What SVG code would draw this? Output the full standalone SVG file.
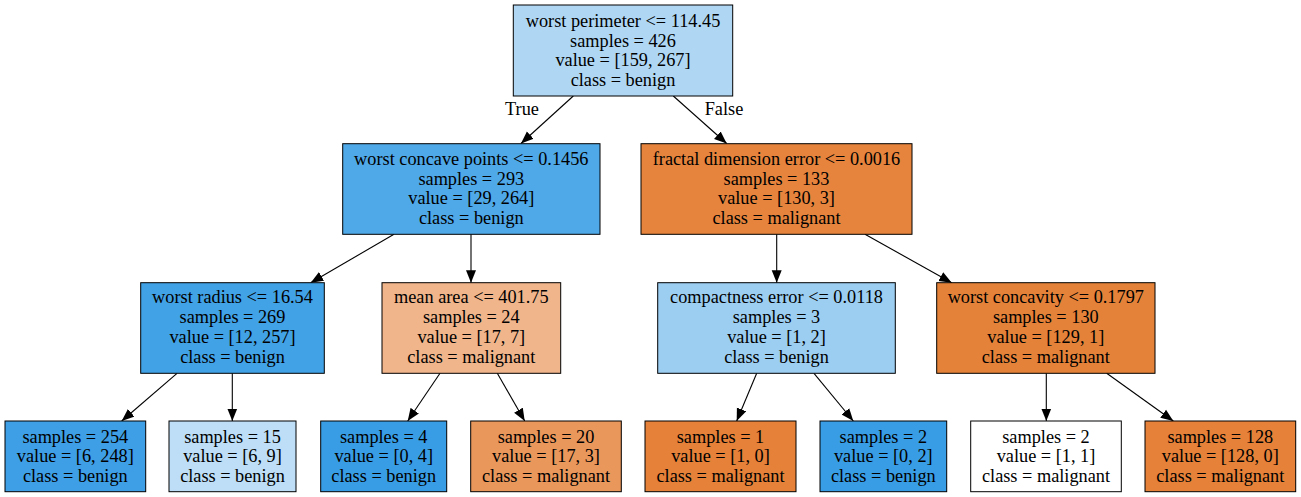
<svg xmlns="http://www.w3.org/2000/svg" width="1301" height="497" viewBox="0 0 1301 497">
<style>
.bg{fill:#ffffff}
.box{stroke:#000000;stroke-width:1}
text{font-family:"Liberation Serif","Times New Roman",serif;font-size:18.3px;fill:#000000;text-anchor:middle}
.edge{stroke:#000000;stroke-width:1.1;fill:none;marker-end:url(#ah)}
</style>
<defs>
<marker id="ah" markerUnits="userSpaceOnUse" markerWidth="13" markerHeight="11" viewBox="0 -5.5 13 11" refX="12.5" refY="0" orient="auto">
<path d="M0,-5 L12.5,0 L0,5 z" fill="#000000"/>
</marker>
</defs>
<rect class="bg" x="0" y="0" width="1301" height="497"/>

<g id="edges">
<line class="edge" x1="573.3" y1="96" x2="521" y2="143.5"/>
<line class="edge" x1="673.3" y1="96" x2="726.7" y2="143.5"/>
<line class="edge" x1="394" y1="234.3" x2="310.7" y2="282.7"/>
<line class="edge" x1="471" y1="234.3" x2="471" y2="282.7"/>
<line class="edge" x1="776.7" y1="234.3" x2="776.7" y2="282.7"/>
<line class="edge" x1="865" y1="234.3" x2="951.7" y2="282.7"/>
<line class="edge" x1="177" y1="373.3" x2="121.7" y2="421"/>
<line class="edge" x1="232.3" y1="373.3" x2="232.3" y2="421"/>
<line class="edge" x1="440" y1="373.3" x2="407.7" y2="421"/>
<line class="edge" x1="497.3" y1="373.3" x2="524.7" y2="421"/>
<line class="edge" x1="756.7" y1="373.3" x2="736.7" y2="421"/>
<line class="edge" x1="814" y1="373.3" x2="853.3" y2="421"/>
<line class="edge" x1="1046.3" y1="373.3" x2="1046.3" y2="421"/>
<line class="edge" x1="1106.7" y1="373.3" x2="1173.3" y2="421"/>
<text x="522" y="115.2">True</text>
<text x="724" y="115.2">False</text>
</g>

<g id="node0">
<rect class="box" x="513.3" y="5" width="219.4" height="91" fill="#afd7f4"/>
<text x="623" y="26.8">worst perimeter &lt;= 114.45</text>
<text x="623" y="46.6">samples = 426</text>
<text x="623" y="66.4">value = [159, 267]</text>
<text x="623" y="86.2">class = benign</text>
</g>

<g id="node1">
<rect class="box" x="342.7" y="143.7" width="257.3" height="90.6" fill="#4fa8e8"/>
<text x="471.3" y="164.8">worst concave points &lt;= 0.1456</text>
<text x="471.3" y="184.6">samples = 293</text>
<text x="471.3" y="204.4">value = [29, 264]</text>
<text x="471.3" y="224.2">class = benign</text>
</g>

<g id="node8">
<rect class="box" x="641" y="143.7" width="271" height="90.6" fill="#e6843d"/>
<text x="776.5" y="164.8">fractal dimension error &lt;= 0.0016</text>
<text x="776.5" y="184.6">samples = 133</text>
<text x="776.5" y="204.4">value = [130, 3]</text>
<text x="776.5" y="224.2">class = malignant</text>
</g>

<g id="node2">
<rect class="box" x="140.7" y="282.7" width="183.6" height="90.6" fill="#42a2e6"/>
<text x="232.5" y="303.1">worst radius &lt;= 16.54</text>
<text x="232.5" y="322.9">samples = 269</text>
<text x="232.5" y="342.7">value = [12, 257]</text>
<text x="232.5" y="362.5">class = benign</text>
</g>

<g id="node5">
<rect class="box" x="382" y="282.7" width="178.7" height="90.6" fill="#f0b58b"/>
<text x="471.3" y="303.1">mean area &lt;= 401.75</text>
<text x="471.3" y="322.9">samples = 24</text>
<text x="471.3" y="342.7">value = [17, 7]</text>
<text x="471.3" y="362.5">class = malignant</text>
</g>

<g id="node9">
<rect class="box" x="657.7" y="282.7" width="237.6" height="90.6" fill="#9ccef2"/>
<text x="776.5" y="303.1">compactness error &lt;= 0.0118</text>
<text x="776.5" y="322.9">samples = 3</text>
<text x="776.5" y="342.7">value = [1, 2]</text>
<text x="776.5" y="362.5">class = benign</text>
</g>

<g id="node12">
<rect class="box" x="936.7" y="282.7" width="218.3" height="90.6" fill="#e58239"/>
<text x="1045.8" y="303.1">worst concavity &lt;= 0.1797</text>
<text x="1045.8" y="322.9">samples = 130</text>
<text x="1045.8" y="342.7">value = [129, 1]</text>
<text x="1045.8" y="362.5">class = malignant</text>
</g>

<g id="node3">
<rect class="box" x="5" y="421" width="140.7" height="70.7" fill="#3e9fe6"/>
<text x="75.3" y="442.5">samples = 254</text>
<text x="75.3" y="462.3">value = [6, 248]</text>
<text x="75.3" y="482.1">class = benign</text>
</g>

<g id="node4">
<rect class="box" x="169" y="421" width="127" height="70.7" fill="#bddef6"/>
<text x="232.5" y="442.5">samples = 15</text>
<text x="232.5" y="462.3">value = [6, 9]</text>
<text x="232.5" y="482.1">class = benign</text>
</g>

<g id="node6">
<rect class="box" x="320.7" y="421" width="126" height="70.7" fill="#399de5"/>
<text x="383.7" y="442.5">samples = 4</text>
<text x="383.7" y="462.3">value = [0, 4]</text>
<text x="383.7" y="482.1">class = benign</text>
</g>

<g id="node7">
<rect class="box" x="470.7" y="421" width="150.6" height="70.7" fill="#ea975c"/>
<text x="546" y="442.5">samples = 20</text>
<text x="546" y="462.3">value = [17, 3]</text>
<text x="546" y="482.1">class = malignant</text>
</g>

<g id="node10">
<rect class="box" x="645" y="421" width="151" height="70.7" fill="#e58139"/>
<text x="720.5" y="442.5">samples = 1</text>
<text x="720.5" y="462.3">value = [1, 0]</text>
<text x="720.5" y="482.1">class = malignant</text>
</g>

<g id="node11">
<rect class="box" x="820" y="421" width="126.7" height="70.7" fill="#399de5"/>
<text x="883.3" y="442.5">samples = 2</text>
<text x="883.3" y="462.3">value = [0, 2]</text>
<text x="883.3" y="482.1">class = benign</text>
</g>

<g id="node13">
<rect class="box" x="970.7" y="421" width="150.6" height="70.7" fill="#ffffff"/>
<text x="1046" y="442.5">samples = 2</text>
<text x="1046" y="462.3">value = [1, 1]</text>
<text x="1046" y="482.1">class = malignant</text>
</g>

<g id="node14">
<rect class="box" x="1145" y="421" width="150.7" height="70.7" fill="#e58139"/>
<text x="1220.3" y="442.5">samples = 128</text>
<text x="1220.3" y="462.3">value = [128, 0]</text>
<text x="1220.3" y="482.1">class = malignant</text>
</g>
</svg>
